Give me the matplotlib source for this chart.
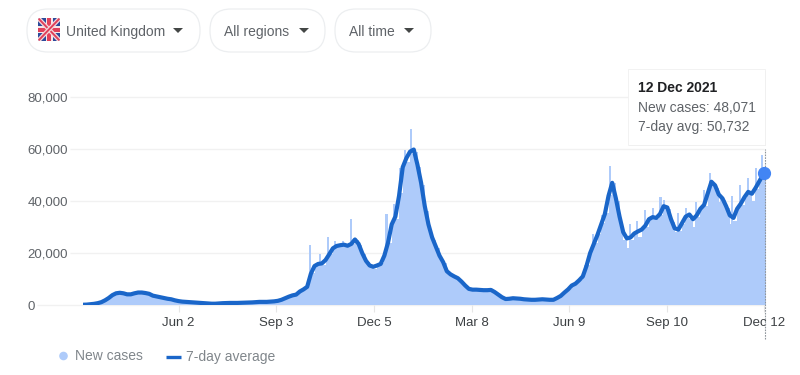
import matplotlib
matplotlib.use("Agg")
import matplotlib.pyplot as plt
from matplotlib.patches import FancyBboxPatch, Polygon, Rectangle, Circle

plt.rcParams["font.family"] = ["Liberation Sans", "DejaVu Sans"]

# -----------------------------
# data
# -----------------------------
# 7-day average, two readings a week, last one is 12 Dec 2021
avg_values = [100, 150, 300, 450, 700, 1100, 1800, 2700, 3800, 4500,
              4700, 4500, 4100, 4100, 4500, 4800, 4800, 4600, 4300, 3600,
              3300, 3000, 2700, 2400, 2200, 1800, 1500, 1300, 1200, 1100,
              1000, 900, 800, 700, 600, 500, 500, 600, 700, 750,
              800, 800, 800, 850, 900, 950, 1000, 1100, 1200, 1200,
              1200, 1300, 1400, 1600, 2000, 2600, 3200, 3700, 4000, 5200,
              6000, 7000, 12000, 15000, 15800, 16000, 17300, 19500, 21800, 22700,
              23000, 23200, 22800, 23500, 25200, 23500, 19900, 17000, 15200, 14700,
              15200, 15800, 19000, 24000, 31000, 34000, 42000, 53000, 56500, 59000,
              59800, 54000, 47000, 38000, 31000, 26000, 22500, 19000, 16500, 13000,
              11800, 11000, 10300, 9000, 7500, 6200, 5900, 5900, 5800, 5700,
              5700, 5800, 5000, 4000, 3000, 2300, 2400, 2600, 2500, 2400,
              2200, 2100, 2000, 2000, 2100, 2200, 2100, 2000, 2000, 2700,
              3500, 4800, 6000, 7500, 8200, 9500, 11000, 15000, 20000, 23500,
              27000, 31000, 35000, 42000, 47000, 41000, 34000, 28000, 25600, 26000,
              27500, 28300, 29000, 30500, 33000, 33800, 33500, 35000, 38000, 37500,
              33000, 29500, 29000, 31500, 34000, 34800, 33000, 34500, 37000, 38500,
              43000, 47400, 46000, 42500, 41000, 38000, 34500, 33500, 37000, 39000,
              41500, 43500, 42800, 45000, 47500, 50000, 50732]
avg_days = [i * 3.5 for i in range(186)] + [649]

# new cases, body of the area, two readings a week
new_cases = [100, 150, 300, 450, 700, 1100, 1900, 2800, 3900, 4700,
             4900, 4400, 4000, 4200, 4600, 4900, 4700, 4500, 4100, 3500,
             3200, 3000, 2600, 2400, 2100, 1700, 1400, 1300, 1100, 1100,
             900, 900, 700, 700, 600, 500, 500, 600, 700, 700,
             800, 800, 800, 900, 900, 900, 1000, 1100, 1200, 1200,
             1200, 1300, 1400, 1600, 2100, 2600, 3300, 3700, 4100, 5300,
             6000, 7000, 12500, 15000, 16000, 15500, 17500, 19500, 22000, 22700,
             23000, 23500, 22500, 23500, 25000, 23000, 19500, 16500, 15000, 14000,
             15000, 16000, 19500, 24000, 31500, 33000, 43000, 52000, 55000, 58000,
             59000, 53000, 46000, 36000, 29000, 25000, 22000, 18000, 16000, 12500,
             11500, 10800, 10000, 8800, 7300, 6000, 5800, 6000, 5700, 5600,
             5800, 5900, 4800, 3800, 2900, 2300, 2500, 2700, 2400, 2400,
             2200, 2100, 2000, 2000, 2200, 2200, 2000, 2000, 2100, 2800,
             3600, 4900, 6200, 7700, 8400, 9800, 11500, 15500, 20500, 24000,
             27500, 31500, 35500, 42500, 47000, 40000, 32000, 25000, 22000, 25000,
             27000, 26000, 29000, 30000, 33000, 33500, 33000, 34500, 37500, 37000,
             32000, 28000, 28500, 31000, 33500, 33000, 30000, 34000, 37000, 38000,
             43000, 47000, 45000, 39500, 40500, 37500, 31000, 32500, 36500, 38500,
             41000, 43000, 40000, 44500, 47000, 48071]
new_days = [i * 3.5 for i in range(len(new_cases))]

# single days that stick out of the area
spike_days = [216, 226, 233, 240, 248, 255, 289, 296, 302, 307, 312, 319,
              478, 486, 494, 502, 521, 528, 535, 543, 550, 553,
              567, 574, 584, 591, 597, 608, 618, 626, 633, 641, 647]
spike_values = [23000, 19700, 26300, 24700, 24700, 33000, 35000, 39000, 52500, 59500, 67700, 55000,
                15400, 27500, 34600, 53600, 31200, 32400, 36500, 37500, 41700, 40400,
                35500, 37200, 39700, 44200, 50900, 42300, 41900, 46200, 49000, 52600, 57700]

tick_days = [91, 184, 277, 370, 463, 556, 649]
tick_labels = ["Jun 2", "Sep 3", "Dec 5", "Mar 8", "Jun 9", "Sep 10", "Dec 12"]
y_ticks = [0, 20000, 40000, 60000, 80000]
y_labels = ["0", "20,000", "40,000", "60,000", "80,000"]

W, H = 800, 375
GREY = "#5f6368"
LIGHT = "#aecbfa"
BLUE = "#1a66c9"

fig = plt.figure(figsize=(W / 100, H / 100), dpi=100)

# -----------------------------
# chart
# -----------------------------
ax = fig.add_axes([83 / W, 1 - 305 / H, (765.5 - 83) / W, (305 - 97) / H])
ax.set_xlim(0, 650)
ax.set_ylim(0, 80000)
for s in ax.spines.values():
    s.set_visible(False)

ax.bar(new_days, new_cases, width=3.6, align="edge", color=LIGHT, linewidth=0, zorder=2)
ax.bar(spike_days, spike_values, width=2, color=LIGHT, linewidth=0, zorder=2)
ax.plot(avg_days, avg_values, color=BLUE, lw=3, solid_joinstyle="round", solid_capstyle="round", zorder=3)
ax.plot(avg_days[-1], avg_values[-1], "o", color="#4285f4", ms=8.5, zorder=4, clip_on=False)
# marker line runs from under the tooltip down past the tick label
ax.vlines(649.5, -13000, 60000, color="#8f959b", lw=0.8, linestyles=(0, (1.5, 1)), zorder=3, clip_on=False)

# grid starts right after each label, so the lines are drawn by hand
grid_starts = [-44, -12, -12, -12, -12]
for y, x0 in zip(y_ticks, grid_starts):
    ax.hlines(y, x0, 649, color="#f1f1f1", lw=1, zorder=1, clip_on=False)

ax.set_yticks(y_ticks)
ax.set_yticklabels(y_labels, ha="left", color=GREY, fontsize=9.5)
ax.tick_params(axis="y", length=0, pad=40)
ax.set_xticks(tick_days)
ax.set_xticklabels(tick_labels, color="#3c4043", fontsize=9.5)
ax.tick_params(axis="x", length=5, width=0.8, color="#e6e6e6", pad=3.5)

# -----------------------------
# page furniture, in pixels
# -----------------------------
ov = fig.add_axes([0, 0, 1, 1], zorder=5)
ov.set_xlim(0, W)
ov.set_ylim(H, 0)
ov.axis("off")
ov.patch.set_alpha(0)

pills = [(27, 200, "United Kingdom", 66, 178), (210, 325, "All regions", 224, 304), (335, 431, "All time", 349, 409)]
for x0, x1, label, tx, arrow in pills:
    ov.add_patch(FancyBboxPatch((x0, 9), x1 - x0, 43, boxstyle="round,pad=0,rounding_size=21",
                                fc="white", ec="#eceef0", lw=0.9))
    ov.text(tx, 30.5, label, color=GREY, fontsize=10, va="center_baseline")
    ov.add_patch(Polygon([(arrow - 5, 28), (arrow + 5, 28), (arrow, 33)], fc="#444746", ec="none"))

# flag
fx0, fx1, fy0, fy1 = 38, 60, 18, 41
clip = FancyBboxPatch((fx0 + 2, fy0 + 2), fx1 - fx0 - 4, fy1 - fy0 - 4, boxstyle="round,pad=2", fc="#2c4a9a", ec="none")
ov.add_patch(clip)
for a, b in [((fx0, fy0), (fx1, fy1)), ((fx0, fy1), (fx1, fy0))]:
    l1, = ov.plot([a[0], b[0]], [a[1], b[1]], color="#f4d9dc", lw=3.2, solid_capstyle="butt")
    l1.set_clip_path(clip)
    l2, = ov.plot([a[0], b[0]], [a[1], b[1]], color="#e0405a", lw=1.4, solid_capstyle="butt")
    l2.set_clip_path(clip)
ov.add_patch(Rectangle((fx0, 26), 22, 7, fc="#f7e6e8", ec="none"))
ov.add_patch(Rectangle((45.5, fy0), 7, 23, fc="#f7e6e8", ec="none"))
ov.add_patch(Rectangle((fx0, 27.5), 22, 4, fc="#e0405a", ec="none"))
ov.add_patch(Rectangle((47, fy0), 4, 23, fc="#e0405a", ec="none"))

# tooltip
ov.add_patch(Rectangle((629, 71), 137, 75, fc="#bbbbbb", ec="none", alpha=0.35))
ov.add_patch(Rectangle((628, 69), 137, 75.5, fc="white", ec="#f0f0f0", lw=0.6))
ov.text(638, 88, "12 Dec 2021", color="#202124", fontsize=10, fontweight="bold", va="center")
ov.text(638, 107.5, "New cases: 48,071", color=GREY, fontsize=10, va="center")
ov.text(638, 127, "7-day avg: 50,732", color=GREY, fontsize=10, va="center")

# legend
ov.add_patch(Circle((63.5, 356), 4.3, fc=LIGHT, ec="none"))
ov.text(75, 356.5, "New cases", color="#80868b", fontsize=10, va="center")
ov.plot([166, 181], [356.5, 356.5], color=BLUE, lw=2.4, solid_capstyle="butt")
ov.text(186, 356.5, "7-day average", color="#80868b", fontsize=10, va="center")

fig.savefig("out.png", dpi=100, facecolor="white")
